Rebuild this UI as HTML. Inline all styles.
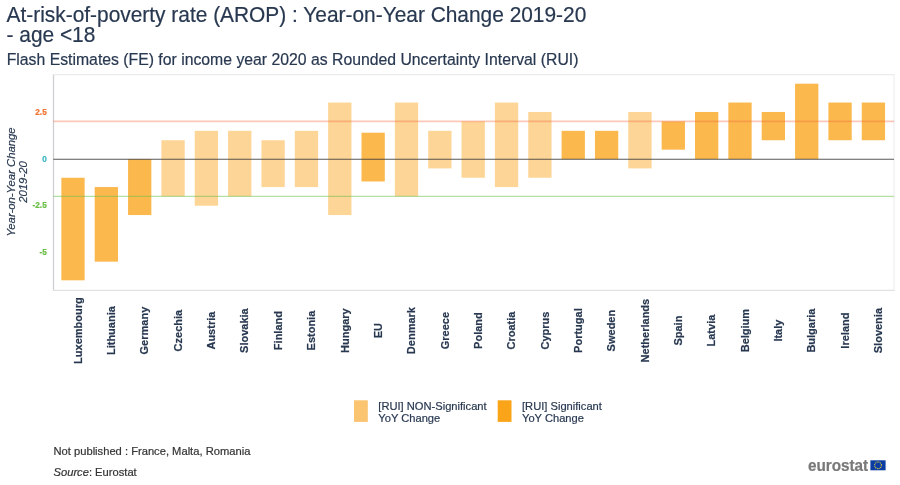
<!DOCTYPE html>
<html><head><meta charset="utf-8"><title>AROP</title>
<style>
html,body{margin:0;padding:0;background:#fff;}
body{width:900px;height:485px;overflow:hidden;font-family:"Liberation Sans",sans-serif;}
svg{display:block;filter:blur(0.7px);font-family:"Liberation Sans",sans-serif;}
</style></head><body>
<svg width="900" height="485" viewBox="0 0 900 485">
<line x1="53.5" x2="53.5" y1="74" y2="291" stroke="#cfcfd3" stroke-width="1.3"/>
<line x1="53" x2="894.5" y1="74.6" y2="74.6" stroke="#ebebeb" stroke-width="1.3"/>
<line x1="894" x2="894" y1="74" y2="291" stroke="#f0f0f0" stroke-width="1.3"/>
<line x1="53" x2="894.5" y1="290.4" y2="290.4" stroke="#e1e1e1" stroke-width="1.4"/>
<rect x="61.35" y="177.75" width="23.3" height="102.57" fill="#fbb84d"/>
<rect x="94.70" y="187.07" width="23.3" height="74.60" fill="#fbb84d"/>
<rect x="128.05" y="159.10" width="23.3" height="55.95" fill="#fbb84d"/>
<rect x="161.40" y="140.25" width="23.3" height="56.15" fill="#fdd596"/>
<rect x="194.75" y="130.82" width="23.3" height="74.90" fill="#fdd596"/>
<rect x="228.10" y="130.82" width="23.3" height="65.57" fill="#fdd596"/>
<rect x="261.45" y="140.25" width="23.3" height="46.82" fill="#fdd596"/>
<rect x="294.80" y="130.82" width="23.3" height="56.25" fill="#fdd596"/>
<rect x="328.15" y="102.55" width="23.3" height="112.50" fill="#fdd596"/>
<rect x="361.50" y="132.71" width="23.3" height="48.77" fill="#fbb84d"/>
<rect x="394.85" y="102.55" width="23.3" height="93.85" fill="#fdd596"/>
<rect x="428.20" y="130.82" width="23.3" height="37.60" fill="#fdd596"/>
<rect x="461.55" y="121.40" width="23.3" height="56.35" fill="#fdd596"/>
<rect x="494.90" y="102.55" width="23.3" height="84.53" fill="#fdd596"/>
<rect x="528.25" y="111.97" width="23.3" height="65.78" fill="#fdd596"/>
<rect x="561.60" y="130.82" width="23.3" height="28.28" fill="#fbb84d"/>
<rect x="594.95" y="130.82" width="23.3" height="28.28" fill="#fbb84d"/>
<rect x="628.30" y="111.97" width="23.3" height="56.45" fill="#fdd596"/>
<rect x="661.65" y="121.40" width="23.3" height="28.27" fill="#fbb84d"/>
<rect x="695.00" y="111.97" width="23.3" height="47.12" fill="#fbb84d"/>
<rect x="728.35" y="102.55" width="23.3" height="56.55" fill="#fbb84d"/>
<rect x="761.70" y="111.97" width="23.3" height="28.28" fill="#fbb84d"/>
<rect x="795.05" y="83.70" width="23.3" height="75.40" fill="#fbb84d"/>
<rect x="828.40" y="102.55" width="23.3" height="37.70" fill="#fbb84d"/>
<rect x="861.75" y="102.55" width="23.3" height="37.70" fill="#fbb84d"/>
<line x1="53.3" x2="894.0" y1="121.40" y2="121.40" stroke="#f26a3d" stroke-opacity="0.36" stroke-width="1.7"/>
<line x1="53.3" x2="894.0" y1="196.40" y2="196.40" stroke="#6abf4b" stroke-opacity="0.5" stroke-width="1.2"/>
<line x1="53.3" x2="894.0" y1="159.25" y2="159.25" stroke="#3c3c3c" stroke-opacity="0.85" stroke-width="1"/>
<text transform="translate(46.7,114.57) scale(1,1.1)" text-anchor="end" font-size="8.2" font-weight="bold" fill="#f0732f" stroke="#f0732f" stroke-width="0.2">2.5</text>
<text transform="translate(46.7,161.70) scale(1,1.1)" text-anchor="end" font-size="8.2" font-weight="bold" fill="#3bb7c3" stroke="#3bb7c3" stroke-width="0.2">0</text>
<text transform="translate(46.7,208.32) scale(1,1.1)" text-anchor="end" font-size="8.2" font-weight="bold" fill="#68bd45" stroke="#68bd45" stroke-width="0.2">-2.5</text>
<text transform="translate(46.7,254.95) scale(1,1.1)" text-anchor="end" font-size="8.2" font-weight="bold" fill="#68bd45" stroke="#68bd45" stroke-width="0.2">-5</text>
<text transform="translate(14.9,182) rotate(-90)" text-anchor="middle" font-size="11.32" font-style="italic" fill="#283850" stroke="#283850" stroke-width="0.2">Year-on-Year Change</text>
<text transform="translate(26.5,182) rotate(-90)" text-anchor="middle" font-size="11.32" font-style="italic" fill="#283850" stroke="#283850" stroke-width="0.2">2019-20</text>
<text transform="translate(81.70,330.6) rotate(-90)" text-anchor="middle" font-size="11" font-weight="bold" fill="#283850" stroke="#283850" stroke-width="0.2">Luxembourg</text>
<text transform="translate(115.05,330.6) rotate(-90)" text-anchor="middle" font-size="11" font-weight="bold" fill="#283850" stroke="#283850" stroke-width="0.2">Lithuania</text>
<text transform="translate(148.40,330.6) rotate(-90)" text-anchor="middle" font-size="11" font-weight="bold" fill="#283850" stroke="#283850" stroke-width="0.2">Germany</text>
<text transform="translate(181.75,330.6) rotate(-90)" text-anchor="middle" font-size="11" font-weight="bold" fill="#283850" stroke="#283850" stroke-width="0.2">Czechia</text>
<text transform="translate(215.10,330.6) rotate(-90)" text-anchor="middle" font-size="11" font-weight="bold" fill="#283850" stroke="#283850" stroke-width="0.2">Austria</text>
<text transform="translate(248.45,330.6) rotate(-90)" text-anchor="middle" font-size="11" font-weight="bold" fill="#283850" stroke="#283850" stroke-width="0.2">Slovakia</text>
<text transform="translate(281.80,330.6) rotate(-90)" text-anchor="middle" font-size="11" font-weight="bold" fill="#283850" stroke="#283850" stroke-width="0.2">Finland</text>
<text transform="translate(315.15,330.6) rotate(-90)" text-anchor="middle" font-size="11" font-weight="bold" fill="#283850" stroke="#283850" stroke-width="0.2">Estonia</text>
<text transform="translate(348.50,330.6) rotate(-90)" text-anchor="middle" font-size="11" font-weight="bold" fill="#283850" stroke="#283850" stroke-width="0.2">Hungary</text>
<text transform="translate(381.85,330.6) rotate(-90)" text-anchor="middle" font-size="11" font-weight="bold" fill="#283850" stroke="#283850" stroke-width="0.2">EU</text>
<text transform="translate(415.20,330.6) rotate(-90)" text-anchor="middle" font-size="11" font-weight="bold" fill="#283850" stroke="#283850" stroke-width="0.2">Denmark</text>
<text transform="translate(448.55,330.6) rotate(-90)" text-anchor="middle" font-size="11" font-weight="bold" fill="#283850" stroke="#283850" stroke-width="0.2">Greece</text>
<text transform="translate(481.90,330.6) rotate(-90)" text-anchor="middle" font-size="11" font-weight="bold" fill="#283850" stroke="#283850" stroke-width="0.2">Poland</text>
<text transform="translate(515.25,330.6) rotate(-90)" text-anchor="middle" font-size="11" font-weight="bold" fill="#283850" stroke="#283850" stroke-width="0.2">Croatia</text>
<text transform="translate(548.60,330.6) rotate(-90)" text-anchor="middle" font-size="11" font-weight="bold" fill="#283850" stroke="#283850" stroke-width="0.2">Cyprus</text>
<text transform="translate(581.95,330.6) rotate(-90)" text-anchor="middle" font-size="11" font-weight="bold" fill="#283850" stroke="#283850" stroke-width="0.2">Portugal</text>
<text transform="translate(615.30,330.6) rotate(-90)" text-anchor="middle" font-size="11" font-weight="bold" fill="#283850" stroke="#283850" stroke-width="0.2">Sweden</text>
<text transform="translate(648.65,330.6) rotate(-90)" text-anchor="middle" font-size="11" font-weight="bold" fill="#283850" stroke="#283850" stroke-width="0.2">Netherlands</text>
<text transform="translate(682.00,330.6) rotate(-90)" text-anchor="middle" font-size="11" font-weight="bold" fill="#283850" stroke="#283850" stroke-width="0.2">Spain</text>
<text transform="translate(715.35,330.6) rotate(-90)" text-anchor="middle" font-size="11" font-weight="bold" fill="#283850" stroke="#283850" stroke-width="0.2">Latvia</text>
<text transform="translate(748.70,330.6) rotate(-90)" text-anchor="middle" font-size="11" font-weight="bold" fill="#283850" stroke="#283850" stroke-width="0.2">Belgium</text>
<text transform="translate(782.05,330.6) rotate(-90)" text-anchor="middle" font-size="11" font-weight="bold" fill="#283850" stroke="#283850" stroke-width="0.2">Italy</text>
<text transform="translate(815.40,330.6) rotate(-90)" text-anchor="middle" font-size="11" font-weight="bold" fill="#283850" stroke="#283850" stroke-width="0.2">Bulgaria</text>
<text transform="translate(848.75,330.6) rotate(-90)" text-anchor="middle" font-size="11" font-weight="bold" fill="#283850" stroke="#283850" stroke-width="0.2">Ireland</text>
<text transform="translate(882.10,330.6) rotate(-90)" text-anchor="middle" font-size="11" font-weight="bold" fill="#283850" stroke="#283850" stroke-width="0.2">Slovenia</text>
<rect x="354" y="400.3" width="13.8" height="21.6" fill="#fbc470"/>
<rect x="497.7" y="400.3" width="13.8" height="21.6" fill="#faa519"/>
<text x="378.3" y="409.6" font-size="11.15" fill="#283850" stroke="#283850" stroke-width="0.2">[RUI] NON-Significant</text>
<text x="378.3" y="421.8" font-size="11.15" fill="#283850" stroke="#283850" stroke-width="0.2">YoY Change</text>
<text x="522" y="409.6" font-size="11.15" fill="#283850" stroke="#283850" stroke-width="0.2">[RUI] Significant</text>
<text x="522" y="421.8" font-size="11.15" fill="#283850" stroke="#283850" stroke-width="0.2">YoY Change</text>
<text transform="translate(6.5,21.8) scale(1,1.04)" font-size="20.9" fill="#283850" stroke="#283850" stroke-width="0.2">At-risk-of-poverty rate (AROP) : Year-on-Year Change 2019-20</text>
<text transform="translate(6.5,41.6) scale(1,1.04)" font-size="20.9" fill="#283850" stroke="#283850" stroke-width="0.2">- age &lt;18</text>
<text transform="translate(6.7,64.7) scale(1,1.03)" font-size="15.8" fill="#283850" stroke="#283850" stroke-width="0.2">Flash Estimates (FE) for income year 2020 as Rounded Uncertainty Interval (RUI)</text>
<text x="53.5" y="454.7" font-size="11.18" fill="#333" stroke="#333" stroke-width="0.2">Not published : France, Malta, Romania</text>
<text x="53.5" y="475.8" font-size="11.18" fill="#333" stroke="#333" stroke-width="0.2"><tspan font-style="italic">Source</tspan>: Eurostat</text>
<text transform="translate(807.9,470.5) scale(1,1.04)" font-size="15.3" font-weight="bold" fill="#787878" stroke="#787878" stroke-width="0.2">eurostat</text>
<rect x="870.4" y="460.3" width="15.2" height="10" fill="#0b3da2"/>
<circle cx="878" cy="465.3" r="3.4" fill="none" stroke="#e3cf3f" stroke-width="1.1" stroke-dasharray="1.0 0.78"/>
</svg>
</body></html>
